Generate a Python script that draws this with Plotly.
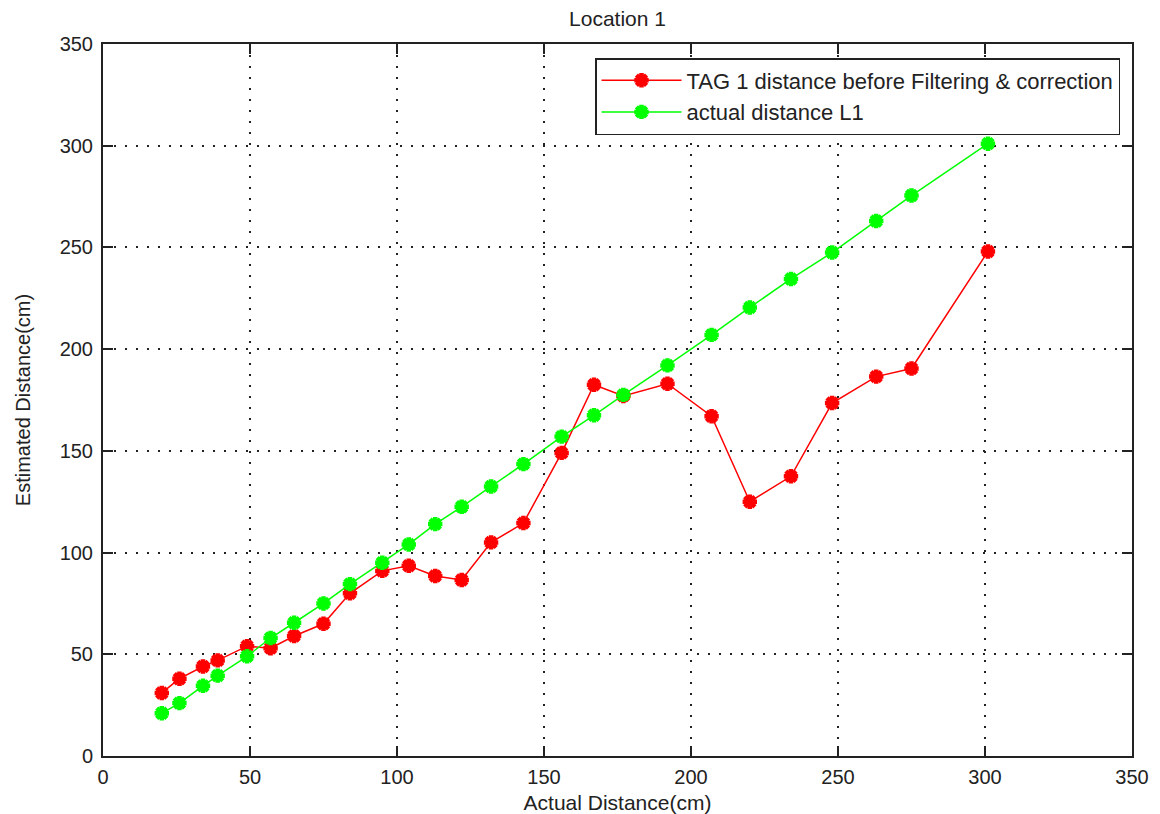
import plotly.graph_objects as go

actual = [20, 26, 34, 39, 49, 57, 65, 75, 84, 95, 104, 113, 122, 132, 143, 156,
          167, 177, 192, 207, 220, 234, 248, 263, 275, 301]
tag1 = [31, 38, 44, 47, 54, 53, 59, 65, 80, 91, 93.5, 88.5, 86.5, 105, 114.5, 149,
        182.5, 177, 183, 167, 125, 137.5, 173.5, 186.5, 190.5, 248]
actual_l1 = [21, 26, 34.5, 39.5, 49, 58, 65.5, 75, 84.5, 95, 104, 114, 122.5, 132.5,
             143.5, 157, 167.5, 177.5, 192, 207, 220.5, 234.5, 247.5, 263, 275.5, 301]

ticks = [0, 50, 100, 150, 200, 250, 300, 350]
font = "Liberation Sans, Arial, sans-serif"

fig = go.Figure()
fig.add_trace(go.Scatter(
    x=actual, y=tag1, mode="lines+markers",
    name="TAG 1 distance before Filtering & correction",
    line=dict(color="#ff0000", width=1.5),
    marker=dict(symbol="asterisk-open", size=12, color="#ff0000",
                line=dict(color="#ff0000", width=4.5)),
))
fig.add_trace(go.Scatter(
    x=actual, y=actual_l1, mode="lines+markers",
    name="actual distance L1",
    line=dict(color="#00ff00", width=1.5),
    marker=dict(symbol="asterisk-open", size=12, color="#00ff00",
                line=dict(color="#00ff00", width=4.5)),
))

axis_common = dict(
    range=[0, 350], tickvals=ticks, ticktext=[str(t) for t in ticks],
    showline=True, linecolor="#222222", linewidth=2, mirror="ticks",
    ticks="inside", ticklen=10, tickcolor="#222222", tickwidth=2,
    showgrid=True, gridcolor="#222222", griddash="2px,9px", gridwidth=1.5,
    zeroline=False, tickfont=dict(size=20, color="#222222", family=font),
    automargin=False,
)

fig.update_layout(
    width=1160, height=814,
    margin=dict(l=103, r=28, t=44, b=58),
    paper_bgcolor="white", plot_bgcolor="white",
    font=dict(family=font, color="#222222", size=20),
    title=dict(text="Location 1", x=(103 + 1132) / 2 / 1160, xanchor="center",
               y=1 - 19 / 814, yanchor="middle", font=dict(size=21)),
    xaxis=dict(title=dict(text="Actual Distance(cm)", font=dict(size=21), standoff=14),
               ticklabelstandoff=2, **axis_common),
    yaxis=dict(title=dict(text="Estimated Distance(cm)", font=dict(size=20), standoff=24),
               ticklabelstandoff=4, **axis_common),
    legend=dict(x=(1120 - 103) / 1029, y=(756 - 58) / 712, xanchor="right", yanchor="top",
                bgcolor="white", bordercolor="#222222", borderwidth=1.5,
                font=dict(size=22), itemwidth=80),
    showlegend=True,
)

fig.write_html("out.html")
